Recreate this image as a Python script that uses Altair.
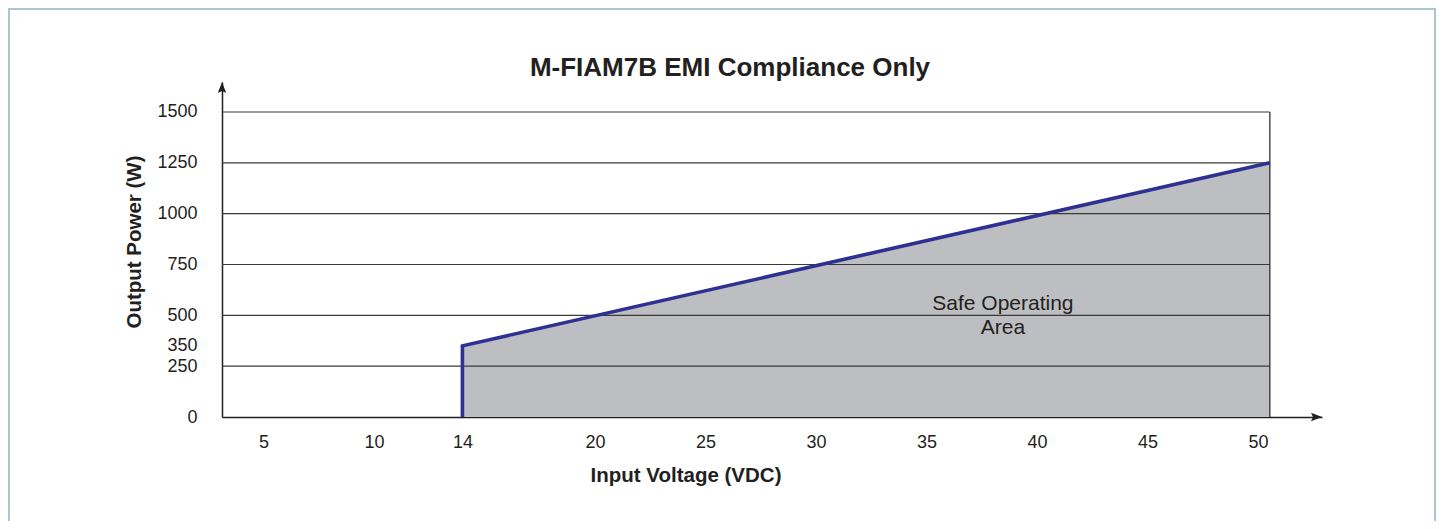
import altair as alt
import pandas as pd

CHART_TITLE = "M-FIAM7B EMI Compliance Only"
X_TITLE = "Input Voltage (VDC)"
Y_TITLE = "Output Power (W)"

# boundary of the safe operating area (blue line)
boundary_voltage = [14, 14, 50.54]
boundary_power = [0, 350, 1250]
# filled region (top edge of the grey area)
fill_voltage = [14, 50.54]
fill_power = [350, 1250]
# axes
x_tick_values = [5, 10, 14, 20, 25, 30, 35, 40, 45, 50]
y_tick_values = [0, 250, 350, 500, 750, 1000, 1250, 1500]
grid_values = [250, 500, 750, 1000, 1250, 1500]
x_domain = [3.12, 52.9]
y_domain = [0, 1647.5]
x_frame_right = 50.54
y_frame_top = 1500
# annotation
area_label_lines = ["Safe Operating", "Area"]
area_label_voltage = 38.46
area_label_power = 526

FONT = "Liberation Sans"
INK = "#231f20"
BLUE = "#2e3192"
GREY = "#bdbec1"

boundary_df = pd.DataFrame({"voltage": boundary_voltage, "power": boundary_power,
                            "idx": list(range(len(boundary_voltage)))})
fill_df = pd.DataFrame({"voltage": fill_voltage, "power": fill_power})
grid_df = pd.DataFrame({"power": grid_values,
                        "x0": [x_domain[0]] * len(grid_values),
                        "x1": [x_frame_right] * len(grid_values)})
edge_df = pd.DataFrame({"voltage": [x_frame_right], "p0": [0], "p1": [y_frame_top]})
yarrow_df = pd.DataFrame({"voltage": [x_domain[0]], "power": [y_domain[1]]})
xarrow_df = pd.DataFrame({"voltage": [x_domain[1]], "power": [0]})
label_df = pd.DataFrame({"voltage": [area_label_voltage], "power": [area_label_power],
                         "text": ["\n".join(area_label_lines)]})
frame_df = pd.DataFrame({"k": [0]})

x_scale = alt.Scale(domain=x_domain, nice=False, zero=False)
y_scale = alt.Scale(domain=y_domain, nice=False, zero=False)

x_axis = alt.Axis(
    values=x_tick_values, format="d", ticks=False, tickSize=0, grid=False,
    domainColor=INK, domainWidth=1.5,
    labelFont=FONT, labelFontSize=18, labelColor=INK, labelPadding=30,
    labelBaseline="alphabetic", labelFlush=False, labelOverlap=False, labelBound=False,
    title=X_TITLE, titleFont=FONT, titleFontSize=20.5, titleFontWeight="bold",
    titleColor=INK, titleX=463.5, titleY=64, titleAlign="center",
    titleBaseline="alphabetic",
)
y_axis = alt.Axis(
    values=y_tick_values, format="d", ticks=False, tickSize=0, grid=False,
    domainColor=INK, domainWidth=1.5,
    labelFont=FONT, labelFontSize=18, labelColor=INK, labelPadding=25,
    labelBaseline="middle", labelAlign="right", labelFlush=False,
    labelOverlap=False, labelBound=False,
    title=Y_TITLE, titleFont=FONT, titleFontSize=20.5, titleFontWeight="bold",
    titleColor=INK, titleX=-82, titleY=159.5, titleAngle=270, titleAlign="center",
    titleBaseline="alphabetic",
)

X = alt.X("voltage:Q", scale=x_scale, axis=x_axis)
Y = alt.Y("power:Q", scale=y_scale, axis=y_axis)

area = alt.Chart(fill_df).mark_area(color=GREY, opacity=1).encode(x=X, y=Y)

grid = alt.Chart(grid_df).mark_rule(color="#3a3a3a", strokeWidth=1.1).encode(
    x=alt.X("x0:Q", scale=x_scale, axis=x_axis), x2="x1:Q",
    y=alt.Y("power:Q", scale=y_scale, axis=y_axis))

edge = alt.Chart(edge_df).mark_rule(color=INK, strokeWidth=1.2).encode(
    x=X, y=alt.Y("p0:Q", scale=y_scale, axis=y_axis), y2="p1:Q")

boundary = alt.Chart(boundary_df).mark_line(
    color=BLUE, strokeWidth=3.6, strokeJoin="miter", strokeCap="butt"
).encode(x=X, y=Y, order=alt.Order("idx:Q"))

yarrow = alt.Chart(yarrow_df).mark_point(
    shape="M0,0L0.38,1L0,0.82L-0.38,1Z", filled=True, size=484, color=INK,
    opacity=1, strokeWidth=0).encode(x=X, y=Y)
xarrow = alt.Chart(xarrow_df).mark_point(
    shape="M0,0L-1,0.38L-0.82,0L-1,-0.38Z", filled=True, size=484, color=INK,
    opacity=1, strokeWidth=0).encode(x=X, y=Y)

label = alt.Chart(label_df).mark_text(
    font=FONT, fontSize=21, color=INK, align="center", baseline="alphabetic",
    lineHeight=24, lineBreak="\n").encode(x=X, y=Y, text="text:N")

frame = alt.Chart(frame_df).mark_rect(
    fillOpacity=0, stroke="#a9c7d0", strokeWidth=2).encode(
    x=alt.value(-213), x2=alt.value(1213), y=alt.value(-73), y2=alt.value(446))

chart = alt.layer(area, grid, edge, boundary, yarrow, xarrow, label, frame).properties(
    width=1100, height=335,
    padding={"left": 214, "top": 74, "right": 115, "bottom": 104},
    autosize=alt.AutoSizeParams(type="none"),
    title=alt.TitleParams(CHART_TITLE, font=FONT, fontSize=26, fontWeight="bold",
                          color=INK, anchor="middle", frame="group", dx=-42,
                          offset=-94, baseline="alphabetic"),
).configure(background="white", view=alt.ViewConfig(stroke=None, strokeWidth=0))

chart.save("out.html", embed_options={"renderer": "svg", "actions": False})
